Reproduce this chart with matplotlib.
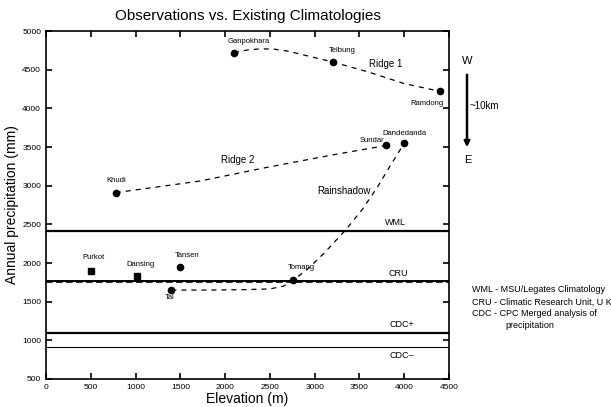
import matplotlib
matplotlib.use("Agg")
import matplotlib.pyplot as plt

plt.rcParams['font.family'] = ['Liberation Sans', 'DejaVu Sans']

# Stations (elevation m, annual precipitation mm)
circle_names = ["Ganpokhara", "Telbung", "Ramdong", "Khudi", "Sundar", "Dandedanda", "Tansen", "Tal", "Tomang"]
circle_elev = [2100, 3200, 4400, 780, 3800, 4000, 1500, 1400, 2760]
circle_prec = [4720, 4600, 4220, 2910, 3520, 3550, 1950, 1650, 1780]

square_names = ["Purkot", "Dansing"]
square_elev = [500, 1020]
square_prec = [1900, 1830]

# Dashed fitted curves
ridge1_x = [2100, 2250, 2400, 2550, 2700, 2950, 3200, 3600, 4000, 4400]
ridge1_y = [4720, 4755, 4770, 4765, 4740, 4670, 4600, 4470, 4320, 4220]
ridge2_x = [780, 1720, 2460, 3210, 3800]
ridge2_y = [2910, 3060, 3235, 3400, 3520]
rain_x = [1400, 1800, 2200, 2500, 2650, 2760, 2900, 3100, 3340, 3530, 3700, 3850, 4000]
rain_y = [1650, 1650, 1655, 1665, 1700, 1780, 1900, 2120, 2420, 2690, 2980, 3270, 3550]

# Climatology lines
clim_names = ["WML", "CRU", "CDC+", "CDC\u2013"]
clim_vals = [2420, 1770, 1100, 920]
cru_dashed = 1750

fig = plt.figure(figsize=(6.11, 4.07), dpi=100)
ax = fig.add_axes([0.0753, 0.0688, 0.6596, 0.855])

ax.plot(ridge1_x, ridge1_y, '--', color='black', lw=0.9, dashes=(4, 4))
ax.plot(ridge2_x, ridge2_y, '--', color='black', lw=0.9, dashes=(4, 4))
ax.plot(rain_x, rain_y, '--', color='black', lw=0.9, dashes=(4, 4))

ax.plot(circle_elev, circle_prec, 'o', color='black', ms=4.5, ls='none')
ax.plot(square_elev, square_prec, 's', color='black', ms=4, ls='none')

clim_lw = [1.6, 1.4, 1.6, 0.8]
for v, lw in zip(clim_vals, clim_lw):
    ax.axhline(v, color='black', lw=lw)
ax.axhline(cru_dashed, color='black', lw=1.2, ls='--', dashes=(4, 2))

fs = 5.5
station_labels = {
    "Ganpokhara": (2266, 4866), "Telbung": (3313, 4754), "Ramdong": (4252, 4060),
    "Khudi": (782, 3069), "Sundar": (3638, 3578), "Dandedanda": (3998, 3681),
    "Tansen": (1578, 2100), "Tal": (1377, 1552), "Tomang": (2855, 1940),
    "Purkot": (532, 2074), "Dansing": (1050, 1986),
}
for name, (x, y) in station_labels.items():
    ax.text(x, y, name, fontsize=fs, ha='center', va='center')

ax.text(3797, 4569, "Ridge 1", fontsize=7, ha='center', va='center')
ax.text(2136, 3332, "Ridge 2", fontsize=7, ha='center', va='center')
ax.text(3330, 2935, "Rainshadow", fontsize=7, ha='center', va='center')

clim_label_pos = [(3904, 2522), (3930, 1858), (3970, 1211), (3975, 810)]
for name, (x, y) in zip(clim_names, clim_label_pos):
    ax.text(x, y, name, fontsize=6.5, ha='center', va='center')

ax.set_xlim(0, 4500)
ax.set_ylim(500, 5000)
ax.set_xticks(range(0, 4501, 500))
ax.set_yticks(range(500, 5001, 500))
ax.tick_params(direction='in', top=True, right=True, labelsize=6, length=4, width=1.2)
for s in ax.spines.values():
    s.set_linewidth(1.2)

ax.set_title("Observations vs. Existing Climatologies", fontsize=11, pad=8)
ax.set_xlabel("Elevation (m)", fontsize=10, labelpad=1)
ax.set_ylabel("Annual precipitation (mm)", fontsize=10, labelpad=2)

# Orientation arrow
fig.text(467.5/611, 1-61/407, "W", fontsize=8, ha='center', va='center')
fig.text(467.5/611, 1-160/407, "E", fontsize=8, ha='center', va='center')
ax.annotate("", xy=(467/611, 1-150/407), xytext=(467/611, 1-72/407),
            xycoords='figure fraction', textcoords='figure fraction',
            arrowprops=dict(arrowstyle='-|>', color='black', lw=1.8, mutation_scale=8),
            annotation_clip=False)
fig.text(470/611, 1-106/407, "~10km", fontsize=7, ha='left', va='center')

legend_lines = ["WML - MSU/Legates Climatology", "CRU - Climatic Research Unit, U K",
                "CDC - CPC Merged analysis of"]
for i, t in enumerate(legend_lines):
    fig.text(472/611, 1-(290 + 12*i)/407, t, fontsize=6.5, ha='left', va='center')
fig.text(505/611, 1-326/407, "precipitation", fontsize=6.5, ha='left', va='center')

fig.savefig("out.png", dpi=100)
